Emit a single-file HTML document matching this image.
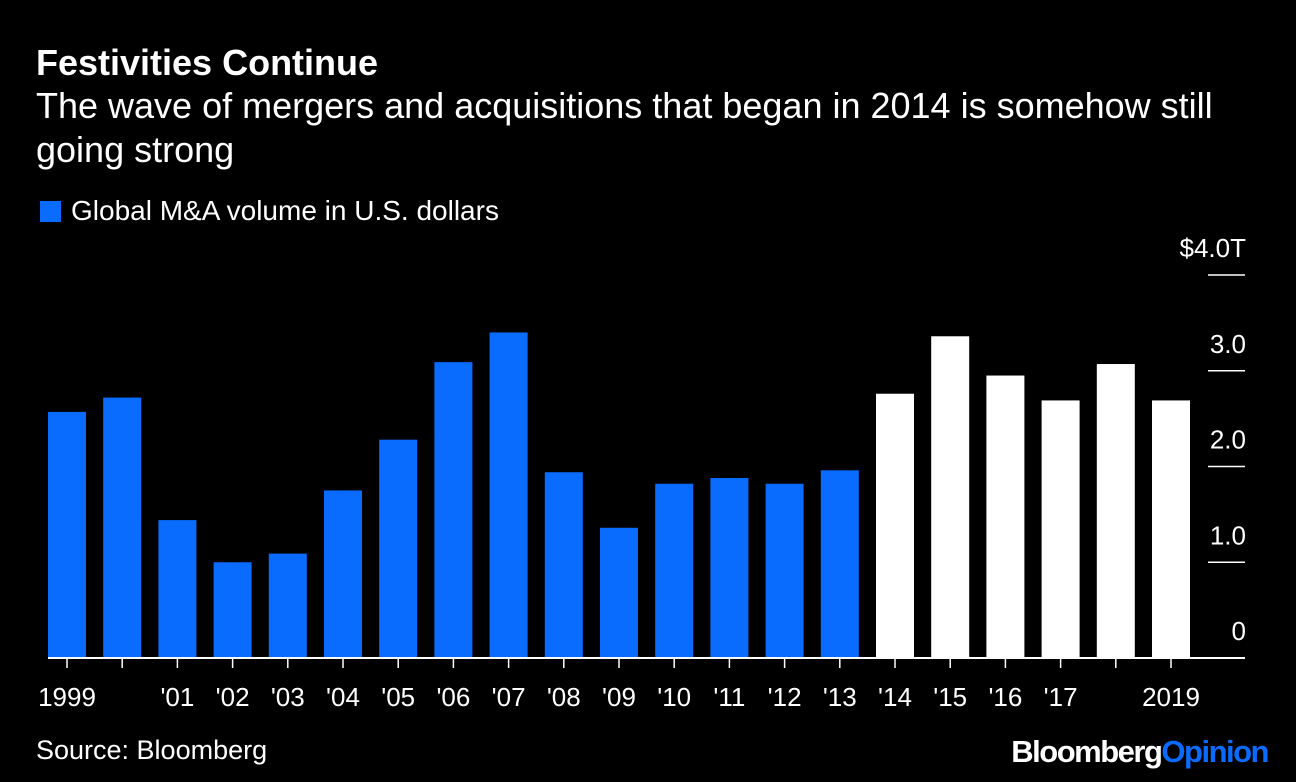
<!DOCTYPE html>
<html><head><meta charset="utf-8"><style>
body{margin:0;background:#000;width:1296px;height:782px;overflow:hidden;font-family:"Liberation Sans",sans-serif;color:#fff}
.t{position:absolute;left:36px;top:42px;font-size:36px;font-weight:bold}
.s{position:absolute;left:36px;top:84px;font-size:36px;line-height:44px;width:1210px}
.l{position:absolute;left:40px;top:195px;font-size:28px}
.l i{display:inline-block;width:21px;height:21px;background:#0a6cff;vertical-align:-2px;margin-right:10px}
.src{position:absolute;left:36px;top:735px;font-size:27px}
.bo{position:absolute;right:28px;top:734px;font-size:31px;font-weight:bold;letter-spacing:-1.5px}
</style></head><body>
<div class="t">Festivities Continue</div>
<div class="s">The wave of mergers and acquisitions that began in 2014 is somehow still going strong</div>
<div class="l"><i></i>Global M&amp;A volume in U.S. dollars</div>
<svg id="c" width="1296" height="782" style="position:absolute;left:0;top:0"></svg>
<div class="src">Source: Bloomberg</div>
<div class="bo">Bloomberg<span style="color:#0a6cff">Opinion</span></div>
<script>
const years=[1999,2000,2001,2002,2003,2004,2005,2006,2007,2008,2009,2010,2011,2012,2013,2014,2015,2016,2017,2018,2019];
const values=[2.57,2.72,1.44,1.00,1.09,1.75,2.28,3.09,3.40,1.94,1.36,1.82,1.88,1.82,1.96,2.76,3.36,2.95,2.69,3.07,2.69];
const xLabels=['1999','','\'01','\'02','\'03','\'04','\'05','\'06','\'07','\'08','\'09','\'10','\'11','\'12','\'13','\'14','\'15','\'16','\'17','','2019'];
const yTicks=[0,1,2,3,4];
const yTickLabels=['0','1.0','2.0','3.0','$4.0T'];
const svg=document.getElementById('c');const NS='http://www.w3.org/2000/svg';
const y=v=>658-v*95.75; const x=i=>67+i*55.2;
function mk(t,a){const e=document.createElementNS(NS,t);for(const k in a)e.setAttribute(k,a[k]);svg.appendChild(e);return e;}
values.forEach((v,i)=>{const r=mk('rect',{x:x(i)-19,y:y(v),width:38,height:658-y(v),fill:years[i]>=2014?'#fff':'#0a6cff'});


const tk=mk('line',{x1:x(i),x2:x(i),y1:658,y2:668,stroke:'#fff','stroke-width':1.5});


if(xLabels[i]){const t=mk('text',{x:x(i),y:706,'text-anchor':'middle',fill:'#fff','font-size':26});t.textContent=xLabels[i];

}
});
yTicks.forEach((v,i)=>{if(v>0){const g=mk('line',{x1:1208,x2:1245,y1:y(v),y2:y(v),stroke:'#fff','stroke-width':1.5});

}
const t=mk('text',{x:1246,y:y(v)-18,'text-anchor':'end',fill:'#fff','font-size':26});t.textContent=yTickLabels[i];

});
const ax=mk('line',{x1:48,x2:1245,y1:658,y2:658,stroke:'#fff','stroke-width':2});


</script>
</body></html>
